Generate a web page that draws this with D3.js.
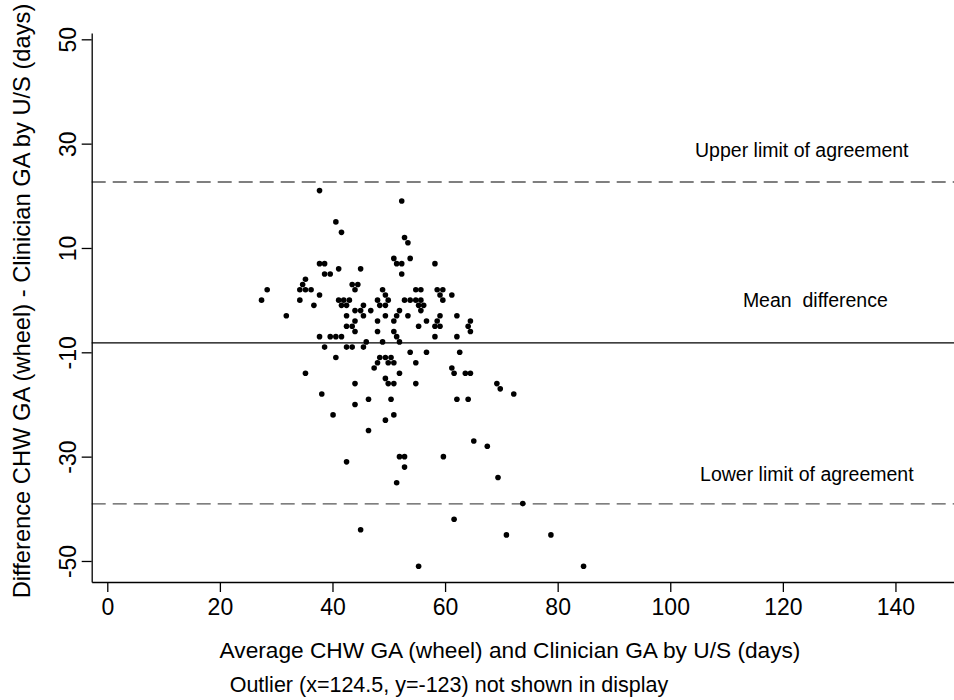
<!DOCTYPE html>
<html>
  <head>
    <meta charset="utf-8">
    <title>Bland-Altman</title>
    <script src="https://cdn.jsdelivr.net/npm/d3@7"></script>
    <style>
      body { margin: 0; background: #fff; }
      svg text { font-family: "Liberation Sans", Arial, sans-serif; fill: #000; }
    </style>
  </head>
  <body>
    <svg id="chart" width="954" height="700"></svg>
    <script>
      // average of the two GA measures (days)
      var avgGA = [
        37.7, 40.6, 41.6, 37.7, 38.6, 38.6, 39.6, 41.1, 45.0, 35.2,
        34.7, 34.2, 35.2, 36.2, 28.4, 43.5, 44.5, 44.0, 37.7, 27.4,
        34.2, 41.1, 42.0, 43.0, 36.7, 41.6, 42.5, 45.5, 44.0, 45.0,
        46.8, 31.8, 42.5, 45.5, 44.0, 42.5, 43.5, 44.0, 37.7, 39.6,
        40.6, 41.6, 46.0, 38.6, 42.5, 43.5, 45.5, 40.6, 35.2, 44.0,
        38.1, 46.4, 44.0, 40.1, 46.4, 42.5, 45.0, 52.3, 52.8, 53.4,
        50.9, 51.4, 52.3, 53.8, 58.2, 52.3, 48.9, 49.4, 54.8, 55.7,
        58.6, 59.6, 59.1, 61.2, 48.0, 49.9, 52.8, 53.8, 54.8, 55.7,
        59.6, 48.4, 49.4, 55.3, 56.2, 51.9, 55.7, 49.4, 51.4, 53.4,
        59.1, 62.1, 48.0, 50.9, 56.7, 58.6, 64.5, 55.3, 58.2, 59.1,
        64.1, 48.0, 50.9, 64.5, 51.4, 58.2, 62.1, 48.9, 51.9, 53.8,
        56.7, 62.6, 48.4, 49.4, 50.4, 48.0, 49.9, 50.9, 54.8, 47.4,
        61.2, 51.9, 61.6, 63.6, 64.5, 49.4, 49.9, 50.9, 54.8, 50.4,
        62.1, 64.1, 50.9, 49.4, 51.9, 52.8, 52.8, 51.4, 59.7, 65.1,
        67.5, 69.4, 73.8, 61.6, 70.9, 78.8, 55.3, 84.6, 69.2, 69.8,
        72.2
      ];
      // difference CHW - clinician (days)
      var diffGA = [
        21, 15, 13, 7, 7, 5, 5, 6, 6, 4,
        3, 2, 2, 2, 2, 3, 3, 2, 1, 0,
        0, 0, 0, 0, -1, -1, -1, -1, -2, -2,
        -2, -3, -3, -3, -4, -5, -5, -6, -7, -7,
        -7, -7, -8, -9, -9, -9, -9, -11, -14, -16,
        -18, -19, -20, -22, -25, -31, -44, 19, 12, 11,
        8, 7, 7, 8, 7, 5, 2, 1, 2, 2,
        2, 2, 1, 1, 0, 0, 0, 0, 0, 0,
        0, -1, -1, -1, -1, -2, -2, -3, -3, -3,
        -3, -3, -4, -4, -4, -4, -4, -5, -5, -5,
        -5, -6, -6, -6, -7, -7, -7, -8, -8, -10,
        -10, -10, -11, -11, -11, -12, -12, -12, -12, -13,
        -13, -14, -14, -14, -14, -15, -16, -16, -16, -19,
        -19, -19, -22, -23, -30, -30, -32, -35, -30, -27,
        -28, -34, -39, -42, -45, -45, -51, -51, -16, -17,
        -18
      ];

      var xTicks = [0, 20, 40, 60, 80, 100, 120, 140];
      var yTicks = [-50, -30, -10, 10, 30, 50];

      var meanDiff = -8.2;
      var upperLoA = 22.65;
      var lowerLoA = -39.07;

      var refLabels = ["Upper limit of agreement", "Mean  difference", "Lower limit of agreement"];
      var refLabelY = [27.5, -1.35, -34.6];   // baseline, in data units
      var refLabelX = [104.4, 112.9, 105.3];  // left edge, in data units

      var svg = d3.select("#chart");

      var x = d3.scaleLinear().domain([-2.77, 150.4]).range([91.7, 954]);
      var y = d3.scaleLinear().domain([-54.03, 51.21]).range([582, 33]);

      // reference lines
      var refs = [
        {v: upperLoA, dash: "14,7", col: "#555"},
        {v: meanDiff, dash: null, col: "#000"},
        {v: lowerLoA, dash: "14,7", col: "#555"}
      ];
      svg.append("g").selectAll("line").data(refs).enter().append("line")
        .attr("x1", x(-2.77)).attr("x2", x(150.4))
        .attr("y1", function(d) { return y(d.v); })
        .attr("y2", function(d) { return y(d.v); })
        .attr("stroke", function(d) { return d.col; })
        .attr("stroke-width", 1.3)
        .attr("stroke-dasharray", function(d) { return d.dash; });

      svg.append("g").selectAll("text").data(refLabels).enter().append("text")
        .attr("x", function(d, i) { return x(refLabelX[i]); })
        .attr("y", function(d, i) { return y(refLabelY[i]); })
        .attr("font-size", 19.5)
        .style("white-space", "pre")
        .text(function(d) { return d; });

      // points
      svg.append("g").selectAll("circle").data(avgGA).enter().append("circle")
        .attr("cx", function(d) { return x(d); })
        .attr("cy", function(d, i) { return y(diffGA[i]); })
        .attr("r", 2.8)
        .attr("fill", "#000");

      // axes
      var fmt = function(d) { return String(d); };
      var xAxis = svg.append("g")
        .attr("transform", "translate(0,582)")
        .call(d3.axisBottom(x).tickValues(xTicks).tickFormat(fmt)
          .tickSize(10).tickSizeOuter(0).tickPadding(7));
      var yAxis = svg.append("g")
        .attr("transform", "translate(91.7,0)")
        .call(d3.axisLeft(y).tickValues(yTicks).tickFormat(fmt)
          .tickSize(10).tickSizeOuter(0));

      [xAxis, yAxis].forEach(function(a) {
        a.select(".domain").attr("stroke", "#000").attr("stroke-width", 1.3);
        a.selectAll(".tick line").attr("stroke", "#000").attr("stroke-width", 1.3);
        a.selectAll(".tick text").attr("font-size", 23)
          .style("font-family", "'Liberation Sans', Arial, sans-serif");
      });

      yAxis.selectAll(".tick text")
        .attr("x", null)
        .attr("text-anchor", "middle")
        .attr("transform", "translate(-23.7,0) rotate(-90)")
        .attr("y", 0).attr("dy", "0.35em");

      // titles
      svg.append("text")
        .attr("transform", "translate(22,301) rotate(-90)")
        .attr("text-anchor", "middle")
        .attr("dy", "0.35em")
        .attr("font-size", 23.7)
        .text("Difference CHW GA (wheel) - Clinician GA by U/S (days)");

      svg.append("text")
        .attr("x", 510).attr("y", 650)
        .attr("text-anchor", "middle")
        .attr("dy", "0.35em")
        .attr("font-size", 22.7)
        .text("Average CHW GA (wheel) and Clinician GA by U/S (days)");

      svg.append("text")
        .attr("x", 449).attr("y", 684)
        .attr("text-anchor", "middle")
        .attr("dy", "0.35em")
        .attr("font-size", 21.5)
        .text("Outlier (x=124.5, y=-123) not shown in display");
    </script>
  </body>
</html>
